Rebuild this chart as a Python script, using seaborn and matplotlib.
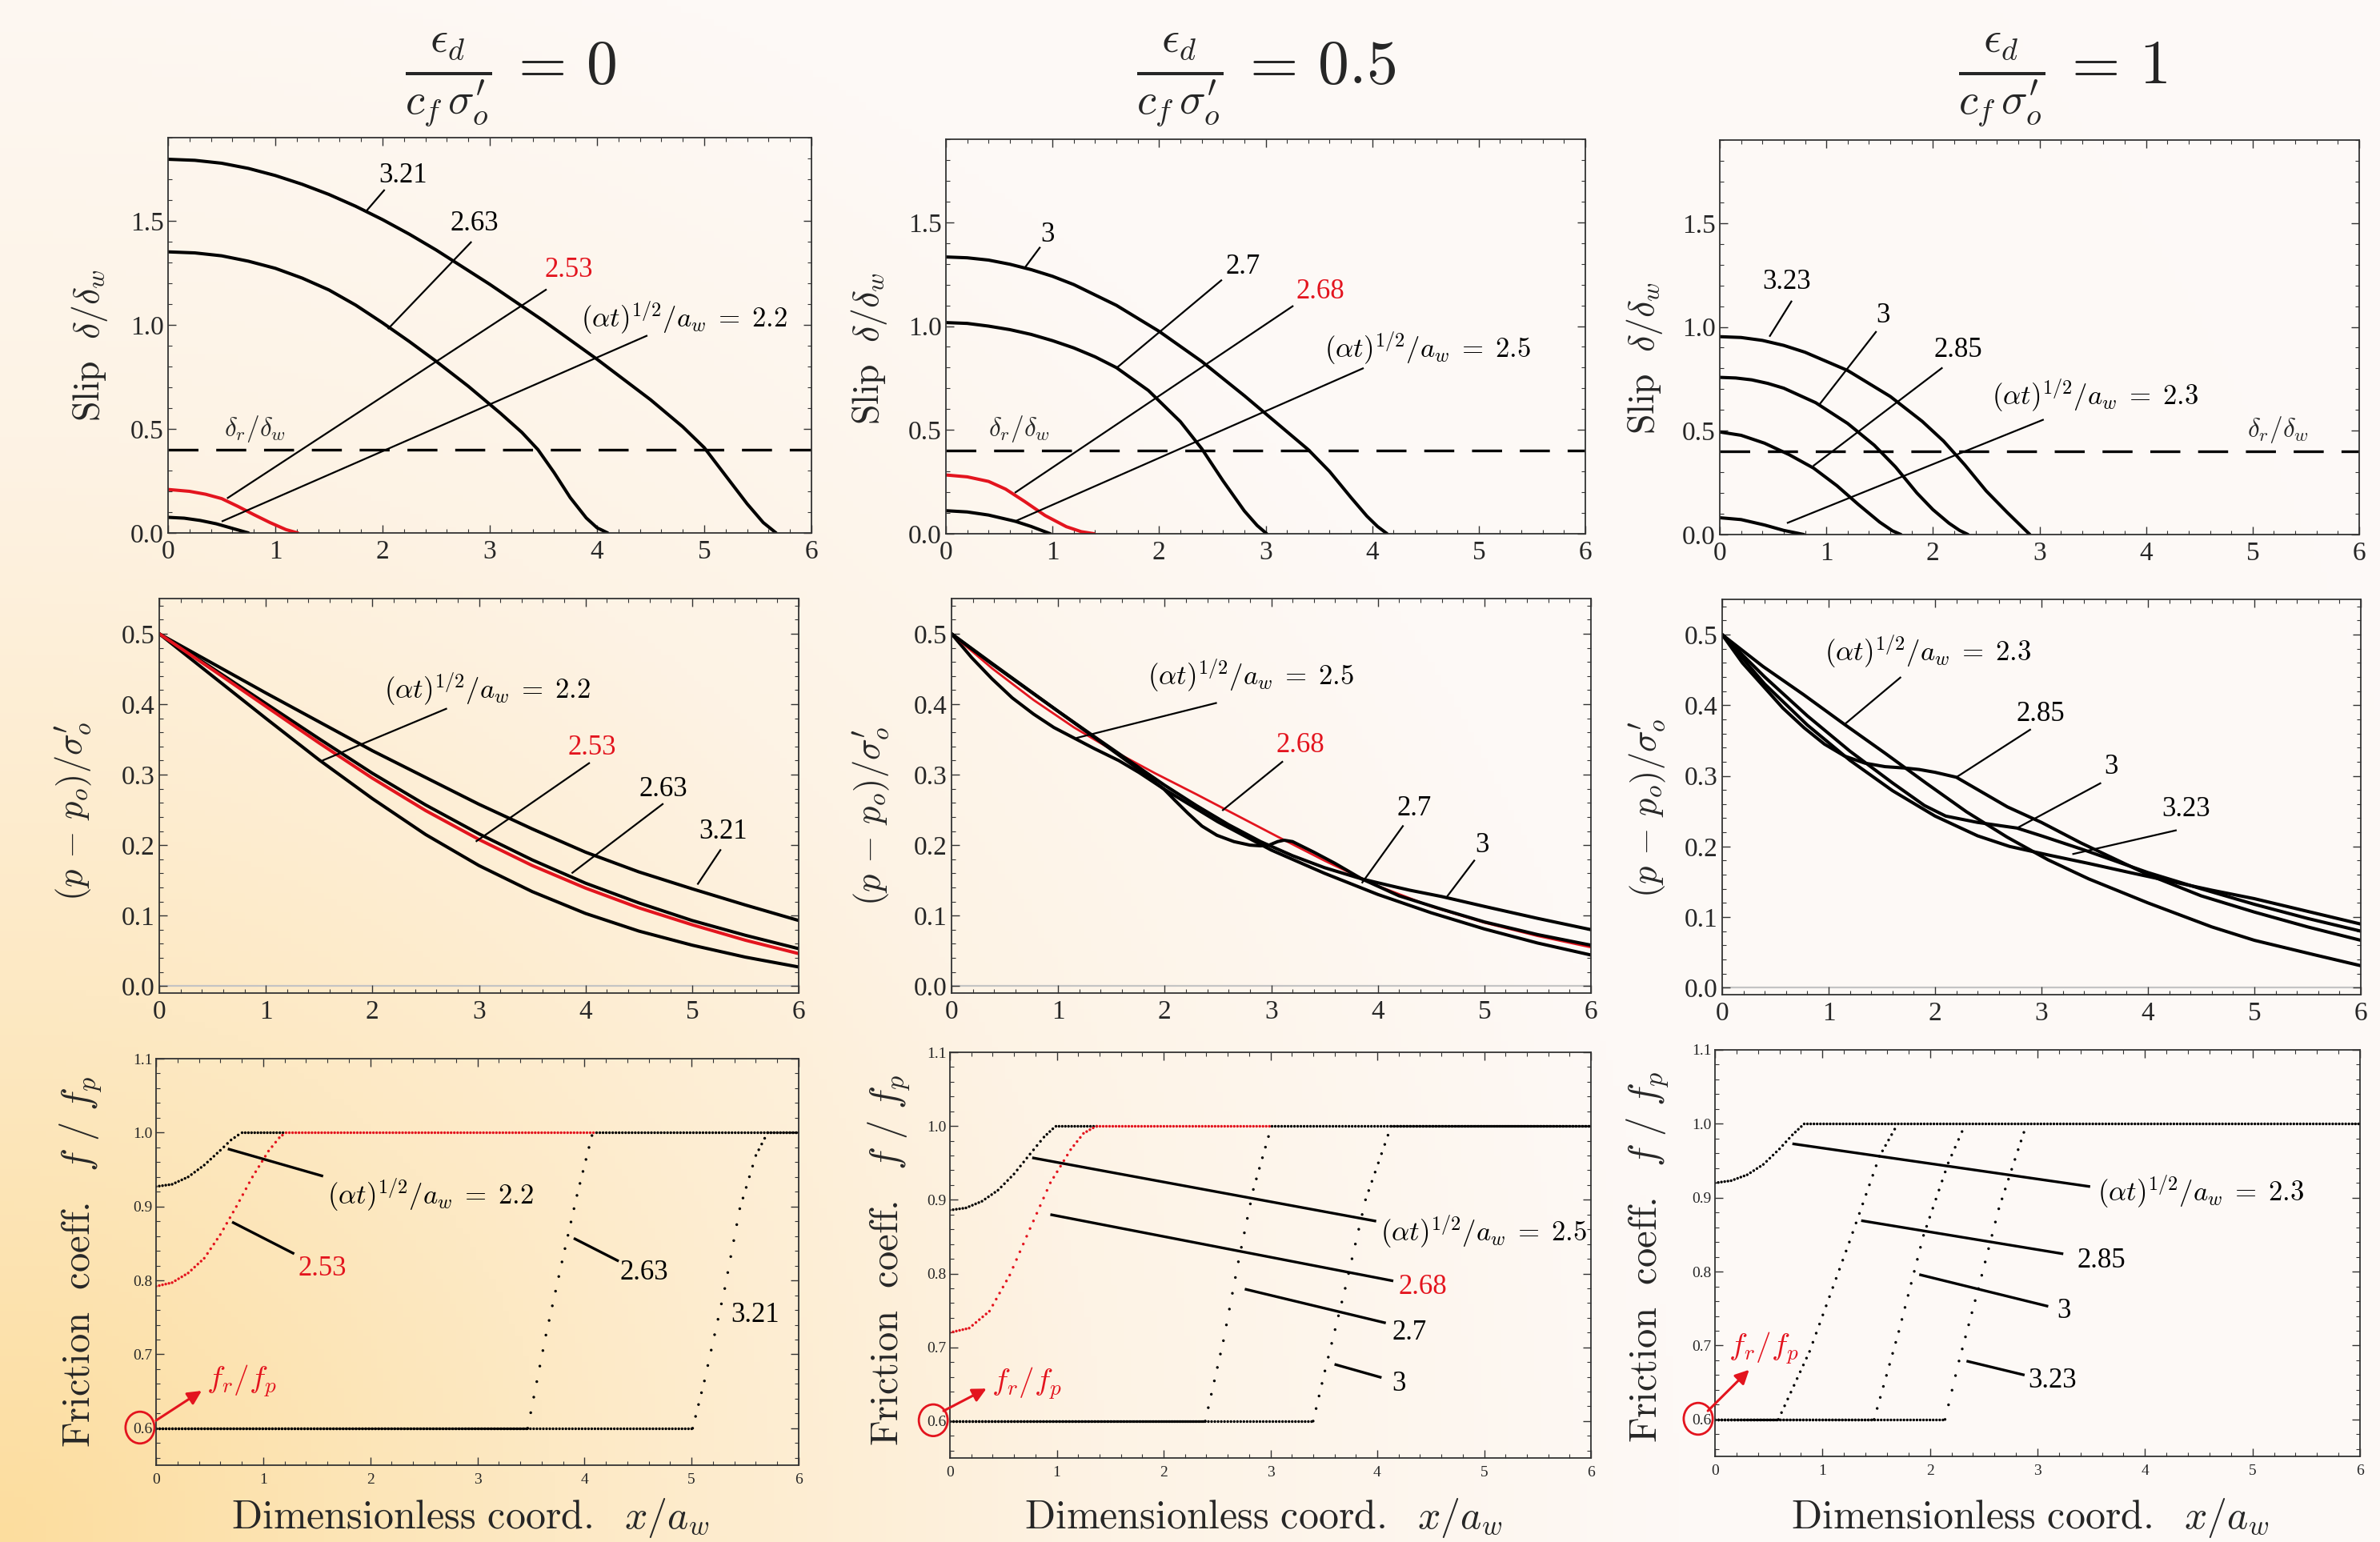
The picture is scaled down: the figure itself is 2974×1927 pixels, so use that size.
import numpy as np
import seaborn as sns
import matplotlib
matplotlib.use("Agg")
import matplotlib.pyplot as plt
from matplotlib.ticker import MultipleLocator, FormatStrFormatter
from matplotlib.patches import Ellipse

# ============================ DATA ============================
title_values = ["0", "0.5", "1"]
slip_residual = 0.4

# ---- Row 1: slip delta/delta_w ----
slip0_t22_x = [0, 0.15, 0.3, 0.45, 0.6, 0.75]
slip0_t22_y = [0.075, 0.071, 0.060, 0.044, 0.022, 0.0]
slip0_t253_x = [0, 0.2, 0.35, 0.5, 0.65, 0.8, 0.95, 1.1, 1.21]
slip0_t253_y = [0.209, 0.2, 0.186, 0.165, 0.128, 0.088, 0.05, 0.016, 0.0]
slip0_t263_x = [0, 0.25, 0.5, 0.75, 1.0, 1.25, 1.5, 1.75, 2.0, 2.25, 2.5, 2.8, 3.1, 3.3, 3.45, 3.6, 3.75, 3.9, 4.0, 4.1]
slip0_t263_y = [1.351, 1.346, 1.332, 1.306, 1.272, 1.225, 1.168, 1.095, 1.01, 0.92, 0.825, 0.705, 0.575, 0.483, 0.4, 0.29, 0.17, 0.072, 0.025, 0.0]
slip0_t321_x = [0, 0.25, 0.5, 0.75, 1.0, 1.25, 1.5, 1.75, 2.0, 2.25, 2.5, 3.0, 3.5, 4.0, 4.5, 4.8, 5.0, 5.2, 5.4, 5.55, 5.67]
slip0_t321_y = [1.796, 1.791, 1.777, 1.752, 1.718, 1.676, 1.627, 1.57, 1.506, 1.436, 1.36, 1.195, 1.02, 0.835, 0.64, 0.51, 0.41, 0.275, 0.14, 0.05, 0.0]

slip5_t25_x = [0, 0.2, 0.4, 0.65, 0.8, 0.98]
slip5_t25_y = [0.111, 0.105, 0.09, 0.06, 0.035, 0.0]
slip5_t268_x = [0, 0.2, 0.4, 0.56, 0.74, 0.93, 1.13, 1.27, 1.39]
slip5_t268_y = [0.283, 0.274, 0.252, 0.215, 0.155, 0.088, 0.034, 0.01, 0.0]
slip5_t27_x = [0, 0.2, 0.4, 0.6, 0.8, 1.0, 1.2, 1.4, 1.6, 1.9, 2.2, 2.4, 2.6, 2.8, 2.92, 3.01]
slip5_t27_y = [1.017, 1.013, 1.0, 0.983, 0.96, 0.93, 0.895, 0.852, 0.80, 0.69, 0.54, 0.41, 0.255, 0.11, 0.04, 0.0]
slip5_t3_x = [0, 0.2, 0.4, 0.6, 0.8, 1.0, 1.2, 1.6, 2.0, 2.4, 2.8, 3.1, 3.4, 3.6, 3.8, 3.95, 4.05, 4.14]
slip5_t3_y = [1.333, 1.329, 1.318, 1.298, 1.272, 1.24, 1.2, 1.1, 0.975, 0.83, 0.665, 0.535, 0.405, 0.3, 0.175, 0.085, 0.035, 0.0]

slip1_t23_x = [0, 0.2, 0.42, 0.6, 0.79]
slip1_t23_y = [0.081, 0.072, 0.046, 0.02, 0.0]
slip1_t285_x = [0, 0.2, 0.42, 0.65, 0.88, 1.1, 1.3, 1.5, 1.62, 1.7]
slip1_t285_y = [0.494, 0.478, 0.44, 0.385, 0.32, 0.235, 0.145, 0.06, 0.018, 0.0]
slip1_t3_x = [0, 0.15, 0.3, 0.45, 0.6, 0.9, 1.2, 1.45, 1.65, 1.85, 2.0, 2.15, 2.25, 2.33]
slip1_t3_y = [0.757, 0.754, 0.745, 0.728, 0.705, 0.635, 0.535, 0.43, 0.325, 0.2, 0.12, 0.055, 0.02, 0.0]
slip1_t323_x = [0, 0.2, 0.4, 0.6, 0.8, 1.2, 1.6, 1.9, 2.1, 2.3, 2.5, 2.7, 2.82, 2.91]
slip1_t323_y = [0.953, 0.949, 0.935, 0.911, 0.878, 0.79, 0.665, 0.545, 0.45, 0.335, 0.21, 0.105, 0.045, 0.0]

# ---- Row 2: pore pressure (p - p_o)/sigma'_o ----
p0_x = [0, 0.5, 1.0, 1.5, 2.0, 2.5, 3.0, 3.5, 4.0, 4.5, 5.0, 5.5, 6.0]
p0_t22_y = [0.5, 0.44, 0.38, 0.321, 0.266, 0.215, 0.171, 0.134, 0.103, 0.078, 0.058, 0.041, 0.027]
p0_t253_y = [0.5, 0.449, 0.397, 0.345, 0.295, 0.249, 0.208, 0.171, 0.139, 0.111, 0.087, 0.065, 0.046]
p0_t263_y = [0.5, 0.451, 0.401, 0.351, 0.302, 0.257, 0.216, 0.179, 0.146, 0.118, 0.093, 0.072, 0.053]
p0_t321_y = [0.5, 0.458, 0.416, 0.375, 0.334, 0.296, 0.258, 0.223, 0.19, 0.162, 0.138, 0.115, 0.093]

p5_t25_x = [0, 0.19, 0.38, 0.57, 0.77, 0.96, 1.15, 1.34, 1.57, 1.76, 1.99, 2.5, 3.0, 3.5, 4.0, 4.5, 5.0, 5.5, 6.0]
p5_t25_y = [0.5, 0.466, 0.436, 0.409, 0.386, 0.367, 0.352, 0.337, 0.320, 0.303, 0.280, 0.233, 0.193, 0.16, 0.13, 0.104, 0.081, 0.061, 0.044]
p5_t268_x = [0, 0.38, 0.77, 1.15, 1.53, 1.91, 2.3, 2.68, 3.06, 3.5, 4.0, 4.5, 5.0, 5.5, 6.0]
p5_t268_y = [0.5, 0.451, 0.406, 0.367, 0.333, 0.302, 0.272, 0.242, 0.212, 0.178, 0.142, 0.113, 0.09, 0.071, 0.055]
p5_t27_x = [0, 0.38, 1.0, 1.34, 1.76, 1.99, 2.1, 2.22, 2.35, 2.49, 2.65, 2.8, 2.9, 2.98, 3.06, 3.12, 3.2, 3.4, 3.6, 3.85, 4.2, 4.6, 5.0, 5.5, 6.0]
p5_t27_y = [0.5, 0.458, 0.39, 0.353, 0.307, 0.28, 0.263, 0.245, 0.227, 0.214, 0.205, 0.2, 0.199, 0.2, 0.205, 0.207, 0.205, 0.19, 0.174, 0.152, 0.128, 0.109, 0.091, 0.073, 0.058]
p5_t3_x = [0, 0.38, 1.0, 1.34, 1.76, 2.0, 2.3, 2.6, 2.9, 3.2, 3.5, 3.85, 4.1, 4.3, 4.6, 5.0, 5.5, 6.0]
p5_t3_y = [0.5, 0.457, 0.39, 0.354, 0.31, 0.285, 0.256, 0.229, 0.205, 0.185, 0.168, 0.152, 0.143, 0.136, 0.127, 0.113, 0.096, 0.08]

p1_t23_x = [0, 0.383, 0.765, 1.148, 1.531, 1.913, 2.296, 2.679, 3.062, 3.444, 4.0, 4.6, 5.0, 5.55, 6.0]
p1_t23_y = [0.5, 0.455, 0.415, 0.373, 0.332, 0.29, 0.249, 0.213, 0.181, 0.154, 0.12, 0.086, 0.067, 0.047, 0.031]
p1_t285_x = [0, 0.19, 0.38, 0.57, 0.77, 0.96, 1.15, 1.34, 1.53, 1.72, 1.85, 2.0, 2.2, 2.68, 3.0, 3.37, 4.0, 4.5, 5.0, 5.5, 6.0]
p1_t285_y = [0.5, 0.46, 0.428, 0.396, 0.368, 0.345, 0.328, 0.318, 0.313, 0.311, 0.309, 0.305, 0.298, 0.256, 0.234, 0.205, 0.16, 0.13, 0.107, 0.086, 0.067]
p1_t3_x = [0, 0.4, 0.8, 1.2, 1.6, 1.9, 2.1, 2.4, 2.77, 3.0, 3.4, 4.0, 4.5, 5.0, 5.5, 6.0]
p1_t3_y = [0.5, 0.44, 0.385, 0.335, 0.29, 0.258, 0.243, 0.234, 0.226, 0.215, 0.195, 0.163, 0.14, 0.118, 0.098, 0.08]
p1_t323_x = [0, 0.4, 0.8, 1.2, 1.6, 2.0, 2.4, 2.7, 3.06, 3.44, 3.83, 4.2, 4.6, 5.0, 5.5, 6.0]
p1_t323_y = [0.5, 0.43, 0.372, 0.322, 0.279, 0.243, 0.215, 0.2, 0.188, 0.176, 0.163, 0.151, 0.138, 0.126, 0.108, 0.09]

# ---- Row 3: friction coefficient f/f_p (visible portions) ----
f0_t22_x = [0, 0.15, 0.3, 0.45, 0.6, 0.7, 0.8, 1.21]
f0_t22_y = [0.927, 0.930, 0.940, 0.956, 0.976, 0.99, 1.0, 1.0]
f0_t253_x = [0, 0.15, 0.3, 0.45, 0.6, 0.75, 0.9, 1.05, 1.15, 1.21, 4.1]
f0_t253_y = [0.792, 0.797, 0.81, 0.83, 0.862, 0.9, 0.94, 0.975, 0.993, 1.0, 1.0]
f0_t263_x = [0, 3.47, 3.64, 3.79, 3.93, 4.07, 4.11, 6.0]
f0_t263_y = [0.6, 0.6, 0.726, 0.825, 0.915, 0.996, 1.0, 1.0]
f0_t321_x = [0, 5.01, 5.12, 5.31, 5.45, 5.6, 5.71, 6.0]
f0_t321_y = [0.6, 0.6, 0.664, 0.789, 0.897, 0.969, 1.0, 1.0]

f5_t25_x = [0, 0.15, 0.3, 0.45, 0.6, 0.75, 0.88, 0.99, 1.37]
f5_t25_y = [0.886, 0.889, 0.898, 0.913, 0.935, 0.962, 0.985, 1.0, 1.0]
f5_t268_x = [0, 0.18, 0.37, 0.56, 0.75, 0.94, 1.13, 1.25, 1.37, 3.01]
f5_t268_y = [0.72, 0.726, 0.749, 0.798, 0.861, 0.923, 0.968, 0.99, 1.0, 1.0]
f5_t27_x = [0, 2.39, 2.56, 2.7, 2.84, 3.01, 6.0]
f5_t27_y = [0.6, 0.6, 0.709, 0.816, 0.914, 1.0, 1.0]
f5_t3_x = [0, 3.4, 3.51, 3.7, 3.89, 4.13, 6.0]
f5_t3_y = [0.6, 0.6, 0.668, 0.78, 0.9, 1.0, 1.0]

f1_t23_x = [0, 0.15, 0.3, 0.45, 0.6, 0.72, 0.83, 6.0]
f1_t23_y = [0.92, 0.923, 0.931, 0.945, 0.966, 0.985, 1.0, 1.0]
f1_t285_x = [0, 0.59, 0.88, 1.25, 1.53, 1.7]
f1_t285_y = [0.6, 0.6, 0.692, 0.84, 0.956, 1.0]
f1_t3_x = [0, 1.48, 1.71, 1.94, 2.17, 2.33]
f1_t3_y = [0.6, 0.6, 0.719, 0.849, 0.947, 1.0]
f1_t323_x = [0, 2.14, 2.27, 2.45, 2.64, 2.82, 2.9]
f1_t323_y = [0.6, 0.6, 0.679, 0.777, 0.885, 0.965, 1.0]

# ============================ STYLE ============================
sns.set_theme(style="ticks")
plt.rcParams["font.family"] = ["Liberation Serif", "DejaVu Serif"]
plt.rcParams["mathtext.fontset"] = "cm"
plt.rcParams["lines.scale_dashes"] = False

RED = "#e3141e"
K = "black"
W, H = 2974, 1927
fig = plt.figure(figsize=(W / 100, H / 100), dpi=100)

# background gradient (warm corner at bottom-left)
bg = fig.add_axes([0, 0, 1, 1], zorder=-10)
ny, nx = 240, 360
gx, gy = np.meshgrid(np.linspace(0, W, nx), np.linspace(0, H, ny))
r = np.sqrt(gx ** 2 + gy ** 2) / 2100.0
stops = [0.0, 0.33, 0.66, 1.0, 2.0]
cols = np.array([[252, 221, 158], [253, 233, 196], [253, 243, 229], [253, 249, 246], [253, 250, 248]]) / 255.0
img = np.dstack([np.interp(r, stops, cols[:, k]) for k in range(3)])
bg.imshow(img, origin="lower", extent=[0, 1, 0, 1], aspect="auto")
bg.set_axis_off()

# axes boxes in pixels (left, top, right, bottom)
boxes = [
    [(210, 172, 1014, 666), (1182, 174, 1981, 667), (2149, 175, 2948, 668)],
    [(199, 748, 998, 1241), (1189, 748, 1988, 1241), (2152, 749, 2950, 1243)],
    [(195, 1323, 998, 1831), (1187, 1315, 1988, 1822), (2143, 1312, 2949, 1820)],
]
axes = [[None] * 3 for _ in range(3)]
for i in range(3):
    for j in range(3):
        l, t, rr, b = boxes[i][j]
        ax = fig.add_axes([l / W, 1 - b / H, (rr - l) / W, (b - t) / H])
        ax.set_facecolor("none")
        axes[i][j] = ax

ylims = [(0, 1.9), (-0.01, 0.55), (0.55, 1.1)]
ymajor = [0.5, 0.1, 0.1]
yminor = [0.1, 0.02, 0.02]
tick_fs = [24, 24, 14]
for i in range(3):
    for j in range(3):
        ax = axes[i][j]
        ax.set_xlim(0, 6)
        ax.set_ylim(*ylims[i])
        ax.xaxis.set_major_locator(MultipleLocator(1))
        ax.xaxis.set_minor_locator(MultipleLocator(0.2))
        ax.yaxis.set_major_locator(MultipleLocator(ymajor[i]))
        ax.yaxis.set_minor_locator(MultipleLocator(yminor[i]))
        ax.xaxis.set_major_formatter(FormatStrFormatter("%d"))
        ax.yaxis.set_major_formatter(FormatStrFormatter("%.1f"))
        ax.tick_params(which="both", direction="in", top=True, right=True, color="#333333",
                       labelsize=tick_fs[i])
        ax.tick_params(which="major", length=7.5, width=1.0, pad=6 if i < 2 else 7)
        ax.tick_params(which="minor", length=3.8, width=0.8)
        ax.tick_params(axis="y", which="major", pad=4 if i < 2 else 3)
        for s in ax.spines.values():
            s.set_color("#333333")
            s.set_linewidth(1.3)
        if i == 2:
            ax.set_yticks([0.6, 0.7, 0.8, 0.9, 1.0, 1.1])

# ---------------- Row 1 ----------------
slip_sets = [
    [(slip0_t22_x, slip0_t22_y, K), (slip0_t253_x, slip0_t253_y, RED),
     (slip0_t263_x, slip0_t263_y, K), (slip0_t321_x, slip0_t321_y, K)],
    [(slip5_t25_x, slip5_t25_y, K), (slip5_t268_x, slip5_t268_y, RED),
     (slip5_t27_x, slip5_t27_y, K), (slip5_t3_x, slip5_t3_y, K)],
    [(slip1_t23_x, slip1_t23_y, K), (slip1_t285_x, slip1_t285_y, K),
     (slip1_t3_x, slip1_t3_y, K), (slip1_t323_x, slip1_t323_y, K)],
]
for j in range(3):
    ax = axes[0][j]
    for xs, ys, c in slip_sets[j]:
        sns.lineplot(x=xs, y=ys, ax=ax, color=c, linewidth=2.9, sort=False, estimator=None)
    ax.axhline(slip_residual, color=K, lw=2.4, dashes=(27, 16))

p_sets = [
    [(p0_x, p0_t22_y, K), (p0_x, p0_t263_y, K), (p0_x, p0_t321_y, K), (p0_x, p0_t253_y, RED)],
    [(p5_t25_x, p5_t25_y, K), (p5_t268_x, p5_t268_y, RED), (p5_t27_x, p5_t27_y, K), (p5_t3_x, p5_t3_y, K)],
    [(p1_t23_x, p1_t23_y, K), (p1_t285_x, p1_t285_y, K), (p1_t3_x, p1_t3_y, K), (p1_t323_x, p1_t323_y, K)],
]
p_lw = [[2.9, 2.9, 2.9, 2.9], [2.9, 2.0, 2.9, 2.9], [2.9, 2.9, 2.9, 2.9]]
for j in range(3):
    ax = axes[1][j]
    ax.axhline(0, color="#c4c4c4", lw=1.6, zorder=0.5)
    for k, (xs, ys, c) in enumerate(p_sets[j]):
        sns.lineplot(x=xs, y=ys, ax=ax, color=c, linewidth=p_lw[j][k], sort=False, estimator=None)

f_sets = [
    [(f0_t22_x, f0_t22_y, K), (f0_t253_x, f0_t253_y, RED), (f0_t263_x, f0_t263_y, K), (f0_t321_x, f0_t321_y, K)],
    [(f5_t25_x, f5_t25_y, K), (f5_t268_x, f5_t268_y, RED), (f5_t27_x, f5_t27_y, K), (f5_t3_x, f5_t3_y, K)],
    [(f1_t23_x, f1_t23_y, K), (f1_t285_x, f1_t285_y, K), (f1_t3_x, f1_t3_y, K), (f1_t323_x, f1_t323_y, K)],
]


def dotted(ax, xs, ys, color, step=0.03, lw=2.5):
    """Draw a curve as a row of dots sampled evenly in x (point-plot look)."""
    for a in range(len(xs) - 1):
        p = ax.transData.transform([[xs[a], ys[a]], [xs[a + 1], ys[a + 1]]])
        L = float(np.hypot(*(p[1] - p[0])))
        n = max(1, int(round((xs[a + 1] - xs[a]) / step)))
        gap_pt = max(L / n * 72.0 / fig.dpi, 0.5)
        ax.plot([xs[a], xs[a + 1]], [ys[a], ys[a + 1]], color=color, lw=lw,
                dashes=(0.01, gap_pt), dash_capstyle="round")


for j in range(3):
    ax = axes[2][j]
    for xs, ys, c in f_sets[j]:
        dotted(ax, xs, ys, c)

# ---------------- annotations ----------------
lab = lambda v: r"$(\alpha t)^{1/2}/a_w\;=\;%s$" % v
ann = {
    (0, 0): [("3.21", (2.19, 1.716), (2.02, 1.65), (1.85, 1.548), K),
             ("2.63", (2.86, 1.485), (2.83, 1.40), (2.05, 0.98), K),
             ("2.53", (3.74, 1.262), (3.53, 1.171), (0.55, 0.166), RED),
             (lab("2.2"), (4.81, 1.03), (4.47, 0.949), (0.5, 0.055), K)],
    (0, 1): [("3", (0.95, 1.441), (0.885, 1.381), (0.74, 1.281), K),
             ("2.7", (2.79, 1.287), (2.59, 1.223), (1.60, 0.798), K),
             ("2.68", (3.51, 1.166), (3.26, 1.098), (0.646, 0.197), RED),
             (lab("2.5"), (4.52, 0.892), (3.92, 0.798), (0.636, 0.057), K)],
    (0, 2): [("3.23", (0.63, 1.217), (0.676, 1.126), (0.466, 0.953), K),
             ("3", (1.53, 1.053), (1.47, 0.979), (0.93, 0.623), K),
             ("2.85", (2.24, 0.89), (2.09, 0.804), (0.876, 0.33), K),
             (lab("2.3"), (3.52, 0.666), (3.04, 0.554), (0.63, 0.055), K)],
    (1, 0): [(lab("2.2"), (3.08, 0.42), (2.7, 0.394), (1.53, 0.32), K),
             ("2.53", (4.06, 0.338), (4.04, 0.317), (2.97, 0.205), RED),
             ("2.63", (4.73, 0.279), (4.73, 0.259), (3.87, 0.16), K),
             ("3.21", (5.29, 0.219), (5.27, 0.194), (5.05, 0.144), K)],
    (1, 1): [(lab("2.5"), (2.81, 0.44), (2.49, 0.402), (1.17, 0.352), K),
             ("2.68", (3.27, 0.341), (3.11, 0.319), (2.54, 0.249), RED),
             ("2.7", (4.34, 0.252), (4.24, 0.228), (3.85, 0.146), K),
             ("3", (4.98, 0.2), (4.91, 0.179), (4.65, 0.127), K)],
    (1, 2): [(lab("2.3"), (1.93, 0.475), (1.68, 0.44), (1.15, 0.373), K),
             ("2.85", (2.99, 0.387), (2.9, 0.366), (2.2, 0.298), K),
             ("3", (3.65, 0.313), (3.56, 0.29), (2.77, 0.226), K),
             ("3.23", (4.36, 0.252), (4.27, 0.223), (3.29, 0.189), K)],
    (2, 0): [(lab("2.2"), (1.6, 0.915), (0.67, 0.978), (1.56, 0.941), K),
             ("2.53", (1.33, 0.816), (0.71, 0.879), (1.29, 0.836), RED),
             ("2.63", (4.33, 0.81), (3.9, 0.857), (4.32, 0.826), K),
             ("3.21", (5.37, 0.753), None, None, K)],
    (2, 1): [(lab("2.5"), (4.03, 0.856), (0.77, 0.957), (3.99, 0.871), K),
             ("2.68", (4.2, 0.782), (0.94, 0.88), (4.15, 0.79), RED),
             ("2.7", (4.14, 0.72), (2.76, 0.779), (4.08, 0.733), K),
             ("3", (4.14, 0.65), (3.6, 0.677), (4.04, 0.659), K)],
    (2, 2): [(lab("2.3"), (3.56, 0.907), (0.72, 0.973), (3.49, 0.915), K),
             ("2.85", (3.37, 0.815), (1.36, 0.869), (3.24, 0.824), K),
             ("3", (3.18, 0.747), (1.9, 0.796), (3.1, 0.753), K),
             ("3.23", (2.91, 0.652), (2.34, 0.679), (2.88, 0.66), K)],
}
for (i, j), items in ann.items():
    ax = axes[i][j]
    for txt, tp, p1, p2, c in items:
        ha = "center" if i < 2 else "left"
        ax.text(tp[0], tp[1], txt, color=c, fontsize=25, ha=ha, va="center", zorder=5)
        if p1 is not None:
            ax.plot([p1[0], p2[0]], [p1[1], p2[1]], color=K, lw=1.6 if i < 2 else 2.4,
                    solid_capstyle="butt", zorder=4)

# delta_r / delta_w labels
for j, pos in enumerate([(0.81, 0.5), (0.69, 0.506), (5.24, 0.503)]):
    axes[0][j].text(pos[0], pos[1], r"$\delta_r/\delta_w$", fontsize=24, ha="center", va="center")

# f_r/f_p red circle + arrow
circ = [(-0.025, 0.0925), (-0.026, 0.093), (-0.026, 0.0925)]
arr = [((0.0, 0.11), (0.071, 0.183), (0.079, 0.207)),
       ((-0.01, 0.116), (0.057, 0.171), (0.065, 0.185)),
       ((-0.011, 0.112), (0.053, 0.213), (0.021, 0.266))]
for j in range(3):
    ax = axes[2][j]
    cx, cy = circ[j]
    ax.add_patch(Ellipse((cx, cy), 0.045, 0.078, transform=ax.transAxes, fill=False,
                         edgecolor=RED, lw=2.0, clip_on=False))
    s, e, tpos = arr[j]
    ax.annotate("", xy=e, xytext=s, xycoords="axes fraction", textcoords="axes fraction",
                arrowprops=dict(arrowstyle="-|>", color=RED, lw=2.2, mutation_scale=26,
                                shrinkA=0, shrinkB=0), annotation_clip=False)
    ax.text(tpos[0], tpos[1], r"$f_r/f_p$", color=RED, fontsize=28, ha="left", va="center",
            transform=ax.transAxes)

# y labels
ylab_text = [r"$\mathrm{Slip}\ \ \delta/\delta_w$", r"$(p\,-\,p_o)/\sigma^{\prime}_o$",
             r"$\mathrm{Friction\ \ coeff.}\ \ f\ /\ f_p$"]
ylab_fs = [33, 32, 35]
ylab_pos = [[(-0.122, 0.474), (-0.12, 0.47), (-0.118, 0.448)],
            [(-0.134, 0.46), (-0.125, 0.448), (-0.117, 0.472)],
            [(-0.116, 0.5), (-0.094, 0.487), (-0.104, 0.49)]]
for i in range(3):
    for j in range(3):
        x0, y0 = ylab_pos[i][j]
        axes[i][j].text(x0, y0, ylab_text[i], rotation=90, ha="center", va="center",
                        fontsize=ylab_fs[i], transform=axes[i][j].transAxes)

# x labels
for cx in [588, 1579, 2537]:
    fig.text(cx / W, 1 - 1897 / H, r"$\mathrm{Dimensionless\ coord.}\ \ x/a_w$",
             ha="center", va="center", fontsize=36)

# column titles
for cx, v in zip([638, 1582, 2578], title_values):
    fig.text(cx / W, 1 - 100 / H, r"$\frac{\epsilon_d}{c_f\,\sigma^{\prime}_o}\,=\,%s$" % v,
             ha="center", va="center", fontsize=56)

fig.savefig("out.png", dpi=100)
